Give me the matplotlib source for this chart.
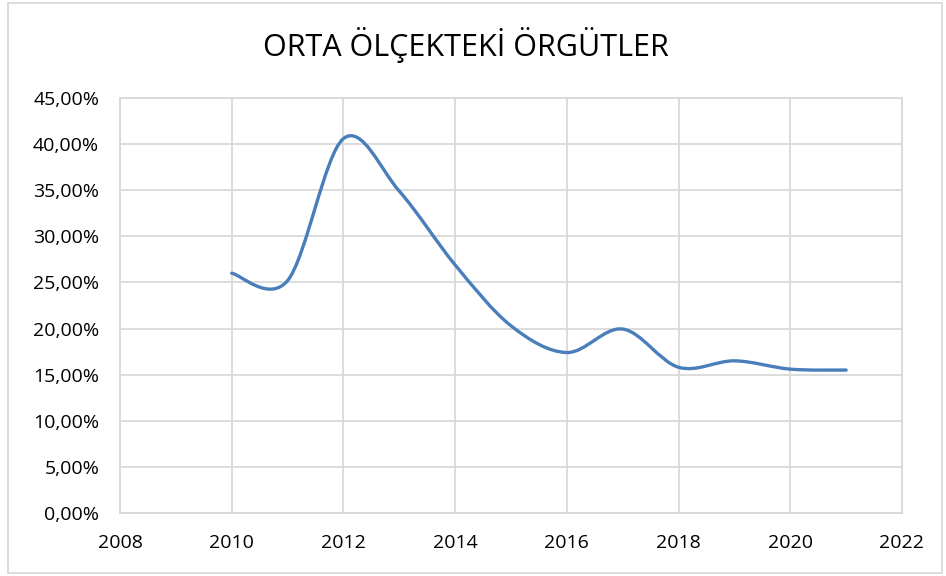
import numpy as np
import matplotlib
matplotlib.use("Agg")
from matplotlib import pyplot as plt
from matplotlib.path import Path
from matplotlib.patches import PathPatch, Rectangle
from matplotlib.ticker import FuncFormatter, MultipleLocator

# Values (share, in %)
years = [2010, 2011, 2012, 2013, 2014, 2015, 2016, 2017, 2018, 2019, 2020, 2021]
shares = [26.0, 25.2, 40.6, 34.9, 26.9, 20.3, 17.4, 19.95, 15.8, 16.5, 15.6, 15.5]

title = "ORTA ÖLÇEKTEKİ ÖRGÜTLER"
line_color = "#4a7ebb"
grid_color = "#d9d9d9"

plt.rcParams['font.family'] = ['Open Sans', 'DejaVu Sans']


def smooth_path(xs, ys):
    """Bezier path through the points, like a spreadsheet 'smoothed line'."""
    pts = np.column_stack([xs, ys]).astype(float)
    padded = np.vstack([pts[0], pts, pts[-1]])
    verts = [pts[0]]
    codes = [Path.MOVETO]
    for i in range(len(pts) - 1):
        p0, p1, p2, p3 = padded[i], padded[i + 1], padded[i + 2], padded[i + 3]
        verts += [p1 + (p2 - p0) / 6, p2 - (p3 - p1) / 6, p2]
        codes += [Path.CURVE4] * 3
    return Path(verts, codes)


fig = plt.figure(figsize=(9.46, 5.76), dpi=100)
ax = fig.add_axes([120 / 946, 1 - 513 / 576, (902 - 120) / 946, (513 - 98) / 576])

ax.add_patch(PathPatch(smooth_path(years, shares), facecolor='none',
                       edgecolor=line_color, linewidth=2.4, capstyle='round',
                       joinstyle='round', zorder=3))

ax.set_xlim(2008, 2022)
ax.set_ylim(0, 45)
ax.xaxis.set_major_locator(MultipleLocator(2))
ax.yaxis.set_major_locator(MultipleLocator(5))
ax.yaxis.set_major_formatter(FuncFormatter(lambda v, _: f"{v:.2f}%".replace('.', ',')))

ax.grid(True, color=grid_color, linewidth=1.3)
ax.set_axisbelow(True)
for s in ax.spines.values():
    s.set_color(grid_color)
    s.set_linewidth(1.3)
ax.tick_params(length=0, labelsize=14, colors='#000000')
ax.tick_params(axis='y', pad=15)
ax.tick_params(axis='x', pad=15)

fig.text(466 / 946, 1 - 45 / 576, title, ha='center', va='center', fontsize=22)

fig.patches.append(Rectangle((8 / 946, 3 / 576), 934 / 946, 570 / 576,
                             transform=fig.transFigure, fill=False,
                             edgecolor=grid_color, linewidth=1.3))

fig.savefig("out.png", dpi=100)
